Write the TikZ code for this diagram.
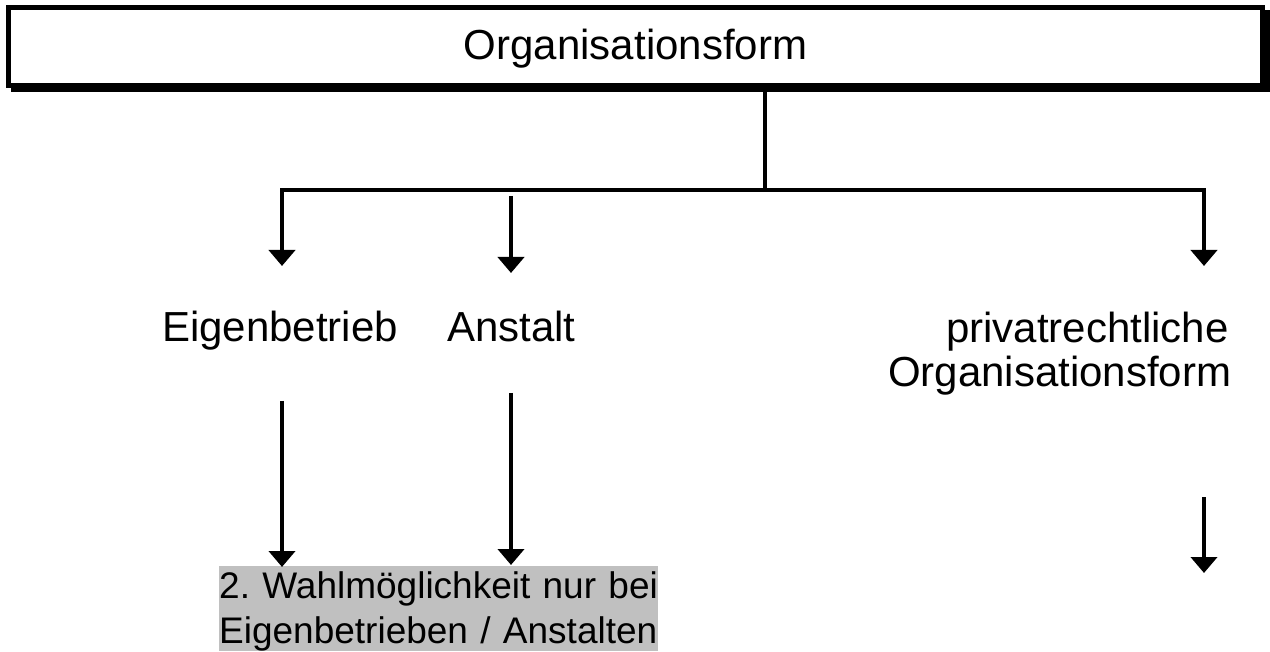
\documentclass[tikz,border=0pt]{standalone}
\usepackage{fontspec}
\setmainfont{Liberation Sans}
\usetikzlibrary{arrows.meta}
\definecolor{notegray}{HTML}{C0C0C0}
\frenchspacing
\begin{document}
\begin{tikzpicture}[x=1pt,y=-1pt,
  conn/.style={line width=4.5pt},
  arr/.style={line width=4.5pt,-{Triangle[width=26pt,length=16pt]}},
  lbl/.style={inner sep=0pt,anchor=base west,font=\fontsize{42}{44}\selectfont}]
\useasboundingbox (0,0) rectangle (1270,652);
% shadow of top box
\fill[black] (11,10) rectangle (1270,92);
\node[draw,line width=5pt,fill=white,minimum width=1254pt,minimum height=78pt,
  inner sep=0pt,text height=30pt,text depth=3pt,font=\fontsize{42}{44}\selectfont]
  (top) at (635.5,46.5) {Organisationsform};
% labels
\node[lbl] (eig) at (162,342) {Eigenbetrieb};
\node[lbl] (ans) at (447,342) {Anstalt};
\node[lbl] (priv1) at (946,343) {privatrechtliche};
\node[lbl] (priv2) at (888,387) {Organisationsform};
\node[fill=notegray,inner sep=0pt,anchor=north west,text width=439pt,align=left,
  text height=32pt,text depth=53pt,font=\fontsize{37}{45}\selectfont\frenchspacing]
  (note) at (219,566) {2. Wahlmöglichkeit nur bei\\Eigenbetrieben / Anstalten};
% coordinates
\coordinate (j) at (765,190);
\coordinate (t1) at (282,266);
\coordinate (t3) at (1204,266);
\coordinate (s2) at (511,196);
\coordinate (t2) at (511,273);
\coordinate (l1s) at (282,401);
\coordinate (l1e) at (282,567);
\coordinate (l2s) at (511,393);
\coordinate (l2e) at (511,565);
\coordinate (l3s) at (1204,497);
\coordinate (l3e) at (1204,573);
% connectors
\draw[conn] (top.south -| j) -- (j);
\draw[arr] (j) -| (t1);
\draw[arr] (j) -| (t3);
\draw[arr] (s2) -- (t2);
\draw[arr] (l1s) -- (l1e);
\draw[arr] (l2s) -- (l2e);
\draw[arr] (l3s) -- (l3e);
\end{tikzpicture}
\end{document}
